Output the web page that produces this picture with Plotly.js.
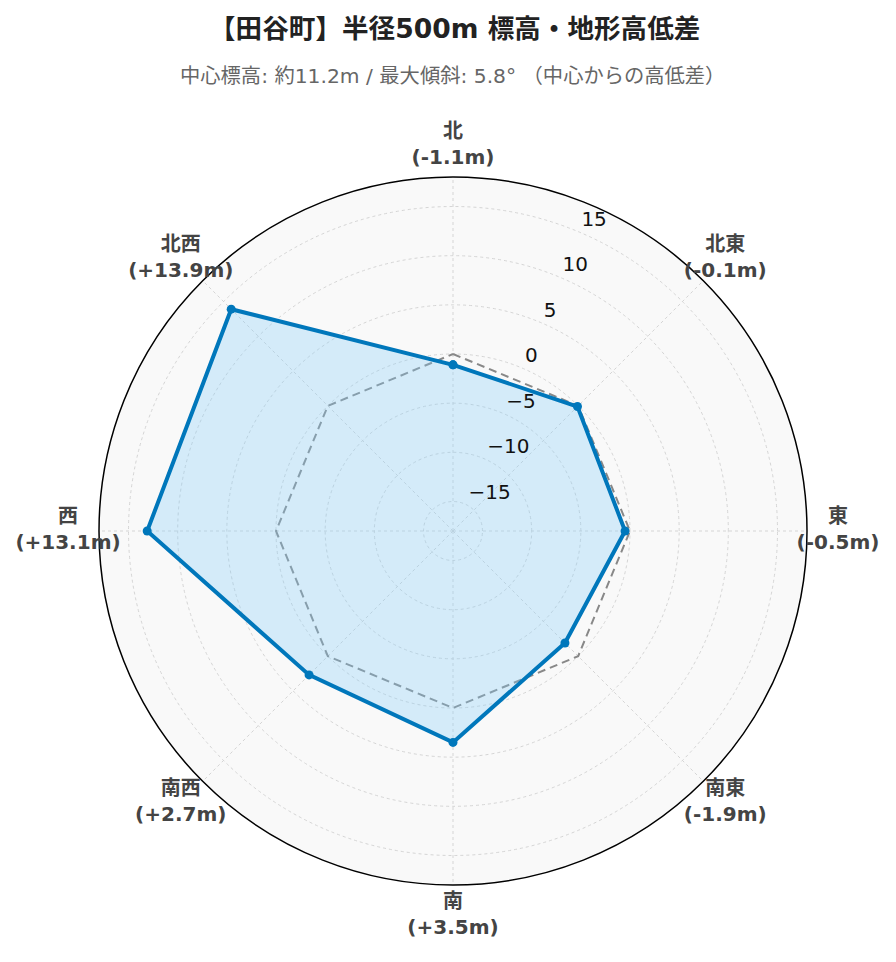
<!DOCTYPE html>
<html><head><meta charset="utf-8">
<script src="https://cdn.plot.ly/plotly-3.0.1.min.js"></script>
<style>body{margin:0;background:#fff}#c{width:896px;height:962px}</style>
</head><body><div id="c"></div>
<script>
const directions = ['北','北東','東','南東','南','南西','西','北西'];
const diffs = [-1.1, -0.1, -0.5, -1.9, 3.5, 2.7, 13.1, 13.9];
const baseline = [0, 0, 0, 0, 0, 0, 0, 0];
const radialTicks = [-15, -10, -5, 0, 5, 10, 15];
const titleText = '【田谷町】半径500m 標高・地形高低差';
const subtitleText = '中心標高: 約11.2m / 最大傾斜: 5.8° （中心からの高低差）';

const fmt = v => (v > 0 ? '+' : '') + v.toFixed(1) + 'm';
const labels = directions.map((d, i) => '<b>' + d + '</b><br><b>(' + fmt(diffs[i]) + ')</b>');
const tickText = v => (v < 0 ? '\u2212' + Math.abs(v) : String(v));
const close = a => a.concat([a[0]]);

// geometry (pixels) and style constants
const W = 896, H = 962, CX = 453, CY = 531, R = 354, R2 = 420, LABEL_PX = 385;
const RANGE = [-18, 18];
const TICK_ANGLE = 67.5, TICK_SHIFT_PX = 11;
const tickShift = TICK_SHIFT_PX * (RANGE[1] - RANGE[0]) / R;
const dom = r => ({x:[(CX - r)/W, (CX + r)/W], y:[(H - CY - r)/H, (H - CY + r)/H]});

const FONT = 'DejaVu Sans, Noto Sans CJK JP, sans-serif';

const traces = [
  {type:'scatterpolar', subplot:'polar', r: close(baseline), theta: close(directions), mode:'lines',
   line:{color:'#888888', width:2, dash:'8px,5px'}, hoverinfo:'skip', showlegend:false},
  {type:'scatterpolar', subplot:'polar', r: close(diffs), theta: close(directions), mode:'lines+markers',
   fill:'toself', fillcolor:'rgba(135,206,250,0.32)',
   line:{color:'#0077BB', width:4}, marker:{color:'#0077BB', size:9}, showlegend:false},
  {type:'scatterpolar', subplot:'polar3', r: radialTicks.map(v => v + tickShift),
   theta: radialTicks.map(() => TICK_ANGLE), mode:'text',
   text: radialTicks.map(tickText), textposition:'middle right', cliponaxis:false,
   textfont:{size:20, color:'#111', family:FONT}, hoverinfo:'skip', showlegend:false},
  {type:'scatterpolar', subplot:'polar2', r: directions.map(() => LABEL_PX / R2), theta: directions, mode:'text',
   text: labels, textposition:'middle center',
   textfont:{size:20, color:'#444', family:FONT}, hoverinfo:'skip', showlegend:false}
];

const hiddenAngular = {rotation:90, direction:'clockwise', type:'category', categoryarray: directions,
  showticklabels:false, showline:false, showgrid:false, ticks:''};

const layout = {
  width:W, height:H,
  margin:{l:0, r:0, t:0, b:0},
  paper_bgcolor:'#ffffff',
  font:{family:FONT, color:'#333'},
  polar:{
    bgcolor:'#f9f9f9',
    domain: dom(R),
    angularaxis:{rotation:90, direction:'clockwise', type:'category',
      categoryarray: directions, showticklabels:false,
      showline:true, linecolor:'#000', linewidth:1.5,
      gridcolor:'#d5d5d5', griddash:'dot', gridwidth:1, ticks:''},
    radialaxis:{range:RANGE, tickvals: radialTicks, angle:TICK_ANGLE, showticklabels:false,
      showline:false, ticks:'', gridcolor:'#d5d5d5', griddash:'dot', gridwidth:1}
  },
  polar3:{
    bgcolor:'rgba(0,0,0,0)',
    domain: dom(R),
    angularaxis:{type:'linear', thetaunit:'degrees', rotation:0, direction:'counterclockwise',
      showticklabels:false, showline:false, showgrid:false, ticks:''},
    radialaxis:{range:RANGE, visible:false, showgrid:false}
  },
  polar2:{
    bgcolor:'rgba(0,0,0,0)',
    domain: dom(R2),
    angularaxis: hiddenAngular,
    radialaxis:{range:[0, 1], visible:false, showgrid:false}
  },
  annotations:[
    {text:'<b>'+titleText+'</b>', xref:'paper', yref:'paper', x:454/W, y:1-28/H,
     xanchor:'center', yanchor:'middle', showarrow:false, font:{size:26.6, color:'#222', family:FONT}},
    {text:subtitleText, xref:'paper', yref:'paper', x:453/W, y:1-76/H,
     xanchor:'center', yanchor:'middle', showarrow:false, font:{size:20.3, color:'#666', family:FONT}}
  ]
};
Plotly.newPlot('c', traces, layout, {displayModeBar:false});
</script></body></html>
